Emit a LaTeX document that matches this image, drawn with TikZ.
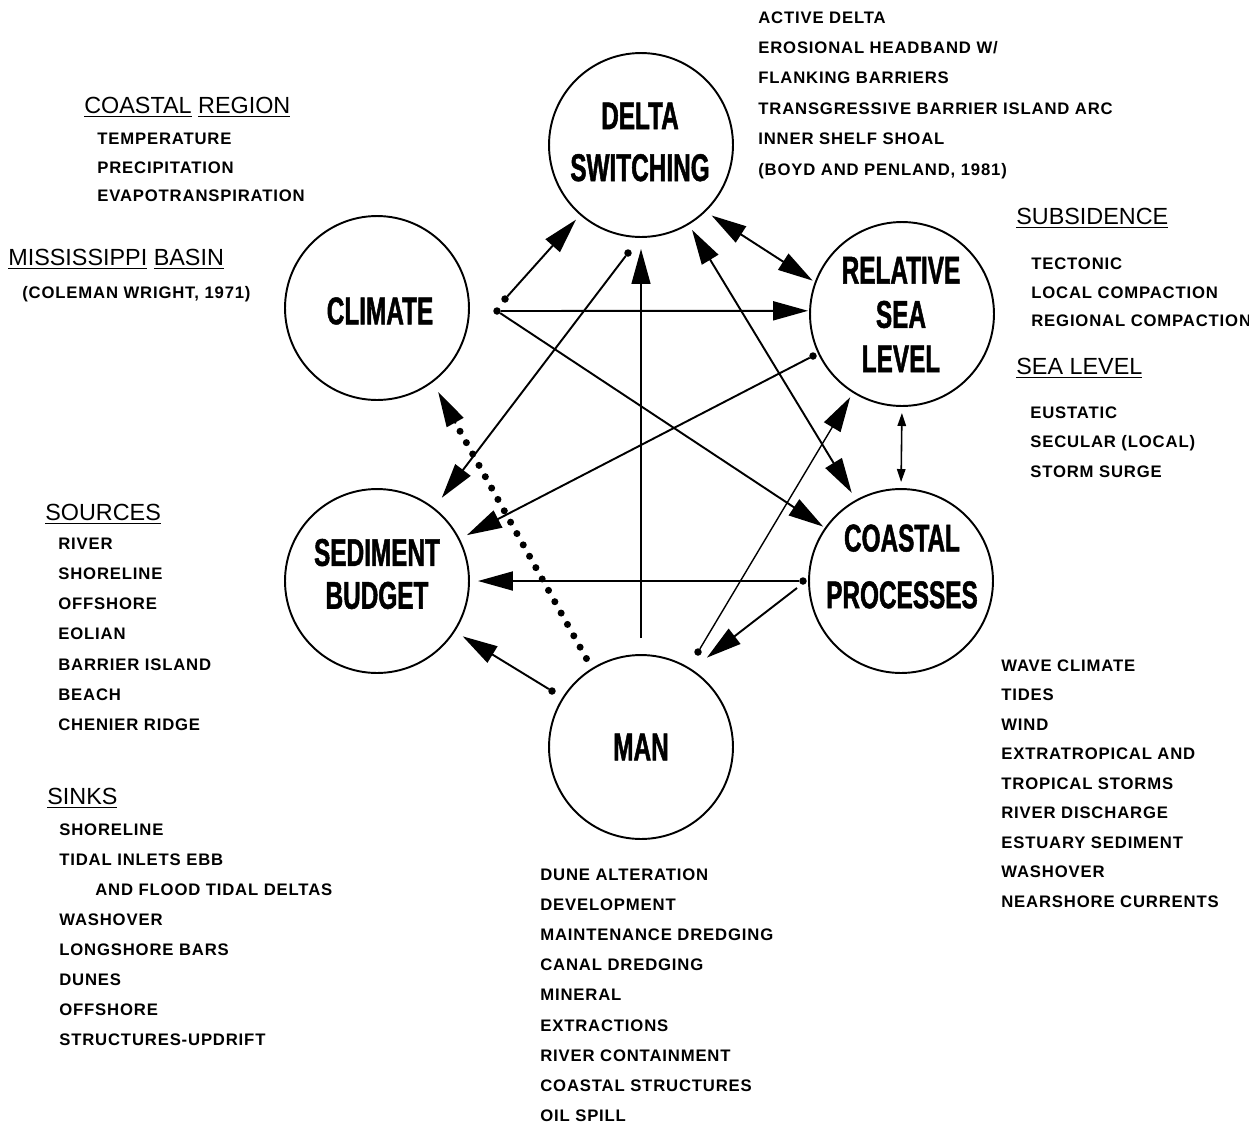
\documentclass[tikz,border=0pt]{standalone}
\usepackage{fontspec}
\setmainfont{Liberation Sans}
\newfontfamily\circfont[FakeStretch=0.63,FakeBold=1.2]{Liberation Sans}
\newfontfamily\listfont[LetterSpace=5]{Liberation Sans}
\usetikzlibrary{arrows.meta,calc}
\tikzset{
  circ/.style={circle, draw, line width=1.1pt, minimum size=3.68cm, inner sep=0pt, outer sep=0pt},
  lab/.style={align=center, inner sep=0pt, font=\circfont\bfseries\fontsize{22}{#1}\selectfont},
  lst/.style={anchor=north west, align=left, inner sep=0pt, font=\listfont\bfseries\fontsize{9.5}{#1}\selectfont},
  hd/.style={anchor=north west, inner sep=0pt, font=\fontsize{13.3}{16}\selectfont},
  dotn/.style={circle, fill, inner sep=0pt, minimum size=0.15cm, outer sep=0pt},
  big/.tip={Triangle[length=0.7cm,width=0.38cm]},
  small/.tip={Triangle[length=0.26cm,width=0.17cm]},
  conn/.style={line width=1.1pt, -big},
  thinconn/.style={line width=0.8pt, -big},
  dconn/.style={line width=1.1pt, big-big},
  sconn/.style={line width=0.9pt, small-small},
}
\begin{document}
\begin{tikzpicture}[x=0.02cm, y=-0.02cm]
\useasboundingbox (0,0) rectangle (1249,1127);

% circles
\node[circ] (delta)    at (641,145) {};
\node[circ] (climate)  at (377,308) {};
\node[circ] (rsl)      at (902,314) {};
\node[circ] (sediment) at (377,581) {};
\node[circ] (coastal)  at (901,581) {};
\node[circ] (man)      at (641,747) {};

% circle labels
\node[lab=29.5] (t-delta)    at (640,142)   {DELTA\\SWITCHING};
\node[lab=25]   (t-climate)  at (380,311)   {CLIMATE};
\node[lab=25.2] (t-rsl)      at (901,314.5) {RELATIVE\\SEA\\LEVEL};
\node[lab=24.4] (t-sediment) at (377,574)   {SEDIMENT\\BUDGET};
\node[lab=32.3] (t-coastal)  at (902,566.5) {COASTAL\\PROCESSES};
\node[lab=25]   (t-man)      at (641,747)   {MAN};

% dots
\node[dotn] (d1) at (505,299) {};
\node[dotn] (d2) at (497,311) {};
\node[dotn] (d3) at (628,253) {};
\node[dotn] (d4) at (813,356) {};
\node[dotn] (d5) at (698,652) {};
\node[dotn] (d6) at (803,581) {};
\node[dotn] (d7) at (552,691) {};
\coordinate (c11s) at (797,588);

% connectors
\draw[conn, shorten >=0.14cm] (d1) -- (delta.229);
\draw[conn, shorten >=0.04cm] (d2) -- (rsl.178);
\draw[conn, shorten >=0.06cm] (d2) -- (coastal.145);
\draw[conn, shorten >=0.27cm] (d3) -- (sediment.52.7);
\draw[thinconn, shorten <=0.34cm, shorten >=0.24cm] (man.90) -- (delta.270);
\draw[dconn, shorten <=0.16cm, shorten >=0.07cm] (delta.314.6) -- (rsl.160.4);
\draw[dconn, shorten <=0.14cm, shorten >=0.18cm] (delta.301.8) -- (coastal.119.1);
\draw[conn, shorten >=0.18cm] (d4) -- (sediment.27);
\draw[thinconn, shorten >=0.12cm] (d5) -- (rsl.238.7);
\draw[conn, shorten >=0.18cm] (d6) -- (sediment.0);
\draw[conn, shorten >=0.4cm] (c11s) -- (man.57);
\draw[conn, shorten >=0.2cm] (d7) -- (sediment.327.4);
\draw[sconn, shorten <=0.14cm, shorten >=0.14cm] (rsl.270) -- (coastal.90);

% dotted connector man -> climate
\coordinate (c13a) at ($(man.122.5)!0.24cm!(climate.307)$);
\coordinate (c13b) at ($(climate.307)!0.24cm!(man.122.5)$);
\draw[line width=4pt, line cap=round, dash pattern=on 0pt off 7.4pt] (c13a) -- ($(c13b)!0.85cm!(c13a)$);
\draw[conn] ($(c13b)!0.72cm!(c13a)$) -- (c13b);

% texts
\node[hd] (h-cr) at (84,97) {\underline{COASTAL} \underline{REGION}};
\node[lst=16.2] (l-cr) at (97,133) {TEMPERATURE\\PRECIPITATION\\EVAPOTRANSPIRATION};
\node[hd] (h-mb) at (8,249) {\underline{MISSISSIPPI} \underline{BASIN}};
\node[lst=17] (l-mb) at (22,286) {(COLEMAN WRIGHT, 1971)};
\node[lst=17.35] (l-ds) at (758,11) {ACTIVE DELTA\\EROSIONAL HEADBAND W/\\FLANKING BARRIERS\\TRANSGRESSIVE BARRIER ISLAND ARC\\INNER SHELF SHOAL\\(BOYD AND PENLAND, 1981)};
\node[hd] (h-sub) at (1016,208) {\underline{SUBSIDENCE}};
\node[lst=16.5] (l-sub) at (1031,257) {TECTONIC\\LOCAL COMPACTION\\REGIONAL COMPACTION};
\node[hd] (h-sl) at (1016,358) {\underline{SEA LEVEL}};
\node[lst=17] (l-sl) at (1030,406) {EUSTATIC\\SECULAR (LOCAL)\\STORM SURGE};
\node[hd] (h-src) at (45,504) {\underline{SOURCES}};
\node[lst=17.1] (l-src) at (58,538) {RIVER\\SHORELINE\\OFFSHORE\\EOLIAN\\BARRIER ISLAND\\BEACH\\CHENIER RIDGE};
\node[hd] (h-snk) at (47,788) {\underline{SINKS}};
\node[lst=17.1] (l-snk) at (59,823) {SHORELINE\\TIDAL INLETS EBB\\\hspace*{0.72cm}AND FLOOD TIDAL DELTAS\\WASHOVER\\LONGSHORE BARS\\DUNES\\OFFSHORE\\STRUCTURES-UPDRIFT};
\node[lst=16.8] (l-cp) at (1001,659) {WAVE CLIMATE\\TIDES\\WIND\\EXTRATROPICAL AND\\TROPICAL STORMS\\RIVER DISCHARGE\\ESTUARY SEDIMENT\\WASHOVER\\NEARSHORE CURRENTS};
\node[lst=17.2] (l-man) at (540,868) {DUNE ALTERATION\\DEVELOPMENT\\MAINTENANCE DREDGING\\CANAL DREDGING\\MINERAL\\EXTRACTIONS\\RIVER CONTAINMENT\\COASTAL STRUCTURES\\OIL SPILL};
\end{tikzpicture}
\end{document}
